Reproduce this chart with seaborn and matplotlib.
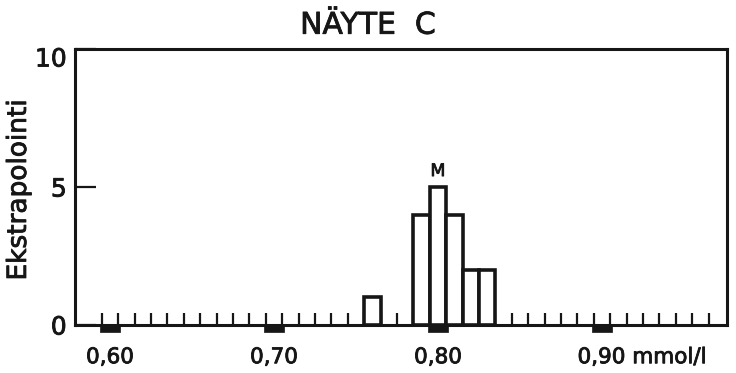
import numpy as np
import pandas as pd
import matplotlib
matplotlib.use("Agg")
import matplotlib.pyplot as plt
import matplotlib.transforms as mtransforms
import matplotlib.patheffects as pe
import seaborn as sns

# Histogram of results for sample C (bin centres in mmol/l, counts)
bin_centres = [0.76, 0.79, 0.80, 0.81, 0.82, 0.83]
counts = [1, 4, 5, 4, 2, 2]

# Axis labelling
x_major = [0.60, 0.70, 0.80, 0.90]
x_major_labels = ["0,60", "0,70", "0,80", "0,90 mmol/l"]
y_major = [0, 5, 10]
y_major_labels = ["0", "5", "10"]
median_value = 0.80
median_label = "M"
title = "NÄYTE  C"
ylabel = "Ekstrapolointi"

sns.set_style("ticks")
plt.rcParams["font.family"] = ["DejaVu Sans"]
INK = "#161616"
# slightly heavier lettering than the regular face
heavy = [pe.withStroke(linewidth=0.6, foreground=INK)]

df = pd.DataFrame({"x": bin_centres, "n": counts})

fig = plt.figure(figsize=(7.36, 3.73), dpi=100)
ax = fig.add_axes([75 / 736, 48 / 373, 652 / 736, 276 / 373])

sns.barplot(data=df, x="x", y="n", native_scale=True, width=1.0,
            color="white", edgecolor=INK, linewidth=2.6, errorbar=None,
            ax=ax, zorder=3)

ax.set_xlim(0.5787, 0.9762)
ax.set_ylim(0, 10)

# bin-edge ticks every 0.01 between the labelled values
edges = np.round(np.arange(0.595, 0.966, 0.01), 3)
ax.set_xticks(edges, minor=True)
ax.set_xticks(x_major)
ax.set_xticklabels(x_major_labels, fontsize=15.5, color=INK)
ax.tick_params(axis="x", which="minor", direction="in", length=9,
               width=1.6, color=INK)
ax.tick_params(axis="x", which="major", length=0, pad=16)

ax.set_yticks(y_major)
ax.set_yticklabels(y_major_labels, fontsize=18, color=INK)
ax.tick_params(axis="y", which="major", direction="in", length=15,
               width=1.6, color=INK, pad=6)
ax.tick_params(axis="y", which="minor", length=0)

# the last x label carries the unit: keep "0,90" centred on its tick
lab = ax.get_xticklabels()[-1]
lab.set_horizontalalignment("left")
lab.set_transform(lab.get_transform() +
                  mtransforms.ScaledTranslation(-0.245, 0, fig.dpi_scale_trans))
# the top y label sits a little below the frame corner
ylab_top = ax.get_yticklabels()[-1]
ylab_top.set_transform(ylab_top.get_transform() +
                       mtransforms.ScaledTranslation(0, -0.08, fig.dpi_scale_trans))

# solid markers under the axis at the labelled values
blob = [(-9.5, -7.0), (9.5, -7.0), (9.5, 1.0), (-9.5, 1.0), (-9.5, -7.0)]
ax.plot(x_major, [0] * len(x_major), ls="none", marker=blob, ms=13.7,
        color=INK, mec=INK, mew=0.5, clip_on=False, zorder=5)

for side in ["left", "right", "top", "bottom"]:
    ax.spines[side].set_visible(True)
    ax.spines[side].set_linewidth(2.2)
    ax.spines[side].set_color(INK)

ax.set_xlabel("")
ax.set_ylabel(ylabel, fontsize=19, color=INK)
ax.yaxis.set_label_coords(-0.066, 0.49)

ax.set_title(title, fontsize=21.5, color=INK, x=0.449, pad=11)

ax.annotate(median_label, xy=(median_value, counts[bin_centres.index(median_value)]),
            xytext=(0, 5), textcoords="offset points", ha="center", va="bottom",
            fontsize=12.5, color=INK)

for t in ax.get_xticklabels() + ax.get_yticklabels() + [ax.title, ax.yaxis.label] + ax.texts:
    t.set_path_effects(heavy)

fig.savefig("out.png", dpi=100, facecolor="white")
